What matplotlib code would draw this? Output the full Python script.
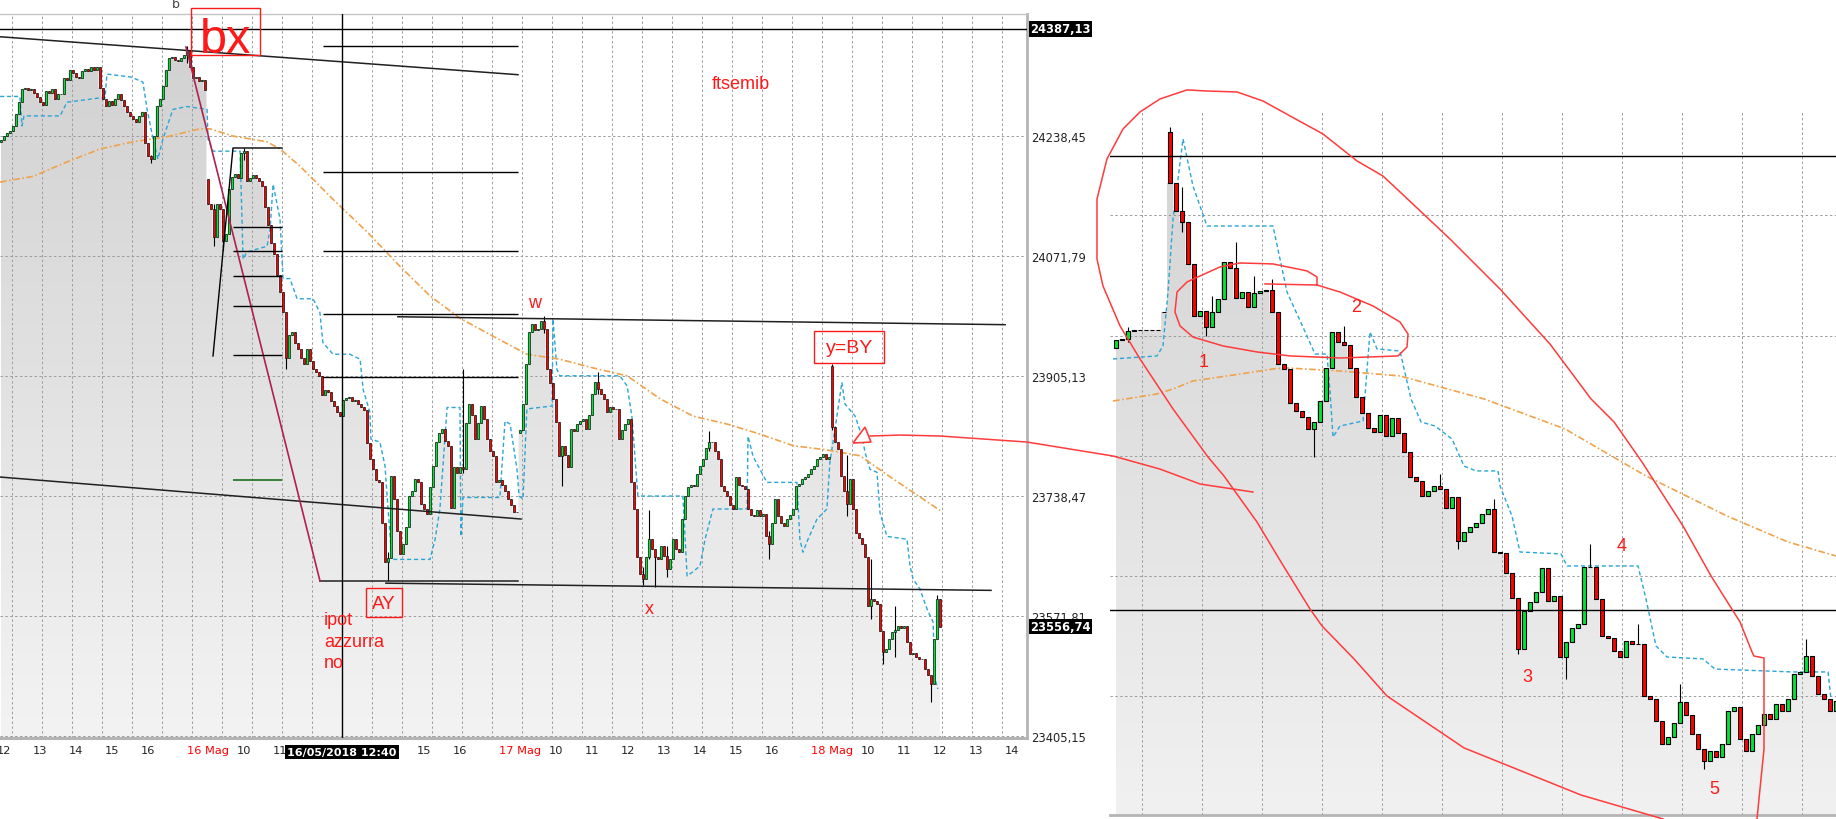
"""FTSE MIB intraday candles with hand annotations (two panels)."""

import matplotlib
matplotlib.use('Agg')
import matplotlib.pyplot as plt
import numpy as np
from matplotlib.colors import LinearSegmentedColormap
from matplotlib.patches import Polygon, Rectangle
from matplotlib.transforms import blended_transform_factory

# ---------------------------------------------------------------------------
# Left chart: 5-minute bars, 104 bars per session (bar 104 = 16 May 09:00)
# ---------------------------------------------------------------------------
session_start = [35, 104, 208, 312]
session_open = [24230, 24178, 23826, 23919]

day15_close = [
    24232, 24238, 24242, 24245, 24252, 24268, 24285, 24303, 24305, 24302,
    24304, 24298, 24292, 24285, 24281, 24300, 24298, 24303, 24290, 24297,
    24296, 24318, 24316, 24330, 24326, 24320, 24318, 24328, 24331, 24329,
    24334, 24330, 24334, 24305, 24290, 24280, 24286, 24281, 24290, 24296,
    24288, 24280, 24271, 24266, 24262, 24258, 24266, 24272, 24228, 24210,
    24206, 24238, 24280, 24290, 24308, 24330, 24346, 24348, 24344, 24342,
    24346, 24350, 24356, 24334, 24318, 24320, 24314, 24316, 24302]
day16_close = [
    24143, 24136, 24098, 24143, 24136, 24092, 24102, 24164, 24181, 24185,
    24180, 24214, 24217, 24176, 24180, 24184, 24180, 24176, 24168, 24140,
    24114, 24090, 24074, 24045, 24022, 23993, 23930, 23962, 23966, 23950,
    23942, 23930, 23921, 23942, 23925, 23914, 23910, 23905, 23878, 23885,
    23883, 23870, 23863, 23855, 23849, 23872, 23874, 23876, 23870, 23872,
    23866, 23862, 23858, 23812, 23790, 23775, 23760, 23757, 23700, 23646,
    23652, 23766, 23734, 23690, 23657, 23672, 23695, 23738, 23745, 23762,
    23758, 23727, 23720, 23713, 23750, 23780, 23813, 23825, 23831, 23815,
    23808, 23722, 23779, 23770, 23778, 23775, 23840, 23866, 23850, 23817,
    23840, 23863, 23845, 23817, 23800, 23794, 23758, 23760, 23754, 23745,
    23734, 23725, 23716, 23716]
day17_close = [
    23830, 23866, 23921, 23966, 23977, 23968, 23970, 23981, 23970, 23914,
    23895, 23873, 23841, 23794, 23808, 23795, 23779, 23831, 23828, 23838,
    23842, 23845, 23831, 23850, 23880, 23896, 23887, 23880, 23873, 23855,
    23862, 23859, 23859, 23817, 23830, 23838, 23845, 23757, 23720, 23654,
    23630, 23623, 23654, 23678, 23665, 23654, 23650, 23668, 23655, 23637,
    23650, 23678, 23665, 23660, 23706, 23738, 23750, 23754, 23752, 23768,
    23780, 23789, 23805, 23813, 23813, 23800, 23789, 23752, 23745, 23738,
    23725, 23720, 23764, 23754, 23752, 23748, 23720, 23712, 23710, 23718,
    23710, 23713, 23682, 23671, 23700, 23734, 23710, 23700, 23696, 23706,
    23712, 23720, 23752, 23755, 23762, 23765, 23768, 23775, 23780, 23789,
    23792, 23796, 23789, 23792]
day18_close = [
    23834, 23813, 23803, 23766, 23745, 23727, 23762, 23720, 23687, 23680,
    23671, 23654, 23585, 23595, 23592, 23588, 23550, 23521, 23525, 23540,
    23549, 23552, 23557, 23555, 23557, 23535, 23518, 23520, 23515, 23512,
    23511, 23498, 23490, 23477, 23540, 23595, 23556.74]

# bar: (low, high) where the shadow is clearly longer than the body
long_wicks = {
    85: (24200, 24212), 97: (24340, 24363), 106: (24085, 24143),
    109: (24080, 24136), 116: (24205, 24222), 130: (23915, 23993),
    164: (23620, 23660), 189: (23770, 23915), 216: (23965, 23988),
    222: (23752, 23808), 234: (23880, 23910), 249: (23614, 23640),
    251: (23650, 23718), 253: (23612, 23665), 257: (23625, 23668),
    271: (23800, 23828), 291: (23650, 23690), 312: (23830, 23922),
    317: (23710, 23795), 325: (23567, 23650), 329: (23505, 23550),
    333: (23515, 23585), 345: (23452, 23490), 347: (23540, 23600)}

# light blue trailing stop (vertices) and orange moving average
stop_line = [
    (34.7, 24293), (41.3, 24293), (42.0, 24252), (42.7, 24266), (54.7, 24266),
    (57.0, 24285), (68.0, 24291), (69.7, 24291), (70.3, 24324), (78.3, 24320),
    (82.3, 24313), (83.7, 24275), (85.7, 24234), (87.3, 24206), (89.0, 24234),
    (92.3, 24275), (97.0, 24279), (103.7, 24275), (104.0, 24234),
    (105.7, 24217), (114.7, 24217), (115.3, 24127), (115.7, 24067),
    (117.0, 24077), (123.7, 24085), (124.7, 24109), (125.7, 24171),
    (128.0, 24123), (129.0, 24040), (131.3, 24040), (133.7, 24012),
    (139.0, 24012), (141.3, 23993), (142.3, 23951), (145.7, 23935),
    (151.3, 23935), (154.7, 23928), (155.7, 23886), (158.0, 23854),
    (158.3, 23817), (161.3, 23813), (163.0, 23780), (163.7, 23738),
    (165.3, 23650), (178.0, 23650), (179.7, 23678), (181.3, 23720),
    (183.7, 23861), (188.0, 23861), (188.3, 23682), (189.0, 23736),
    (201.3, 23736), (203.0, 23842), (204.7, 23838), (207.0, 23775),
    (207.7, 23738), (209.0, 23734), (210.3, 23859), (218.7, 23863),
    (219.0, 23984), (220.3, 23914), (221.3, 23905), (241.3, 23905),
    (243.7, 23891), (245.3, 23849), (247.3, 23738), (262.3, 23738),
    (263.7, 23627), (265.7, 23633), (268.0, 23641), (269.7, 23678),
    (272.3, 23720), (283.7, 23720), (284.0, 23821), (285.7, 23793),
    (290.3, 23757), (300.3, 23757), (301.3, 23678), (302.3, 23660),
    (304.0, 23678), (307.0, 23706), (310.3, 23720), (311.3, 23785),
    (313.0, 23831), (315.3, 23896), (316.3, 23866), (319.7, 23849),
    (322.0, 23821), (323.0, 23799), (324.7, 23775), (327.0, 23771),
    (328.0, 23715), (330.3, 23682), (337.0, 23678), (338.0, 23641),
    (339.0, 23623), (341.3, 23609), (343.7, 23581), (345.7, 23563),
    (346.3, 23484), (347.3, 23470)]
ma_line = [
    (34.7, 24174), (45.7, 24182), (57.0, 24202), (68.0, 24220), (79.0, 24230),
    (90.3, 24237), (101.3, 24248), (104.7, 24248), (112.3, 24238),
    (123.7, 24230), (128.0, 24220), (134.7, 24196), (145.7, 24150),
    (157.0, 24105), (168.0, 24057), (178.0, 24016), (188.0, 23985),
    (199.0, 23960), (210.3, 23935), (221.3, 23928), (232.3, 23916),
    (243.7, 23905), (254.7, 23873), (265.7, 23849), (277.0, 23838),
    (288.0, 23824), (299.0, 23808), (310.3, 23802), (321.3, 23794),
    (332.3, 23762), (348.0, 23718)]

price_grid = [24238.45, 24071.79, 23905.13, 23738.47, 23571.81, 23405.15]
hline_level = 24387.13
last_price = 23556.74
tick_bars = [36, 48, 60, 72, 84, 104, 116, 128, 176, 188, 208, 220, 232, 244,
             256, 268, 280, 292, 312, 324, 336, 348, 360, 372]
tick_labels = ['12', '13', '14', '15', '16', '16 Mag', '10', '11', '15', '16',
               '17 Mag', '10', '11', '12', '13', '14', '15', '16', '18 Mag',
               '10', '11', '12', '13', '14']
cursor_bar = 148.67
cursor_label = '16/05/2018 12:40'

# hand-drawn lines on the left chart, (bar, price)
trend_lines = [
    [(34.67, 24375.9), (207.33, 24323.2)],
    [(34.67, 23764.4), (208.33, 23706.1)],
    [(167.3, 23987.0), (369.7, 23976.0)],
    [(163.3, 23617.0), (365.0, 23607.0)],
    [(141.33, 23620.0), (207.33, 23620.0)],
]
maroon_line = [(96.67, 24361.6), (141.33, 23620.0)]
wave_line = [(105.67, 23932.5), (112.33, 24221.4), (128.67, 24221.4)]
fib_span = (142.33, 207.33)
fib_levels = [24362.6, 24187.6, 24077.9, 23990.8, 23903.3]
small_span = (112.33, 128.67)
small_levels = [24111.6, 24078.3, 24043.6, 24001.9, 23933.9]
green_level = 23760.2
arrow_head = [(319.0, 23811.6), (323.0, 23833.8), (325.0, 23813.0)]
arrow_path = [(324.7, 23821.4), (334.7, 23822.7), (348.0, 23821.4),
              (377.0, 23813.0), (405.7, 23793.6), (421.3, 23775.5),
              (434.7, 23754.7), (452.3, 23743.6)]

# ---------------------------------------------------------------------------
# Right chart: zoom on the 18 May decline
# ---------------------------------------------------------------------------
rp_first_open = 23757.3
rp_gap_open = {8: 23783.6, 9: 23915.0}
rp_close = [
    23763.2, 23764.0, 23769.7, 23770.5, 23770.5, 23770.5, 23770.5, 23770.5,
    23783.6, 23878.0, 23857.0, 23849.0, 23819.0, 23780.7, 23784.3, 23772.6,
    23783.6, 23793.0, 23820.0, 23815.7, 23793.8, 23798.2, 23787.3, 23797.5,
    23799.0, 23799.7, 23783.6, 23745.6, 23742.0, 23717.1, 23711.3, 23706.9,
    23698.1, 23703.3, 23718.6, 23742.7, 23769.0, 23761.7, 23759.5, 23742.7,
    23721.5, 23709.8, 23698.9, 23696.0, 23708.4, 23693.0, 23706.2, 23695.2,
    23681.4, 23663.1, 23660.2, 23649.2, 23652.9, 23656.5, 23654.3, 23640.4,
    23648.5, 23616.3, 23622.9, 23626.6, 23629.5, 23636.1, 23639.7, 23608.3,
    23607.6, 23593.0, 23574.7, 23537.5, 23565.2, 23571.8, 23579.1, 23596.6,
    23572.5, 23576.2, 23531.6, 23542.6, 23552.8, 23555.7, 23597.4, 23597.4,
    23574.0, 23547.0, 23545.5, 23536.0, 23531.6, 23543.3, 23541.1, 23541.1,
    23503.2, 23500.9, 23484.9, 23468.1, 23473.2, 23483.4, 23498.7, 23489.3,
    23475.4, 23464.4, 23455.7, 23463.0, 23458.6, 23468.1, 23492.2, 23495.1,
    23471.7, 23463.0, 23475.4, 23482.0, 23490.0, 23486.3, 23497.3, 23492.2,
    23500.9, 23519.2, 23520.7, 23532.3, 23517.7, 23504.6, 23500.9, 23492.2,
    23499.4]
rp_wicks = {
    2: (23762.0, 23772.6), 9: (23878.0, 23918.7), 11: (23842.0, 23875.0),
    15: (23766.0, 23784.3), 16: (23772.6, 23795.3), 20: (23793.8, 23834.7),
    23: (23787.3, 23809.9), 26: (23783.6, 23807.7), 33: (23677.7, 23703.3),
    38: (23759.5, 23773.4), 54: (23654.3, 23665.3), 57: (23610.5, 23648.5),
    63: (23608.3, 23647.0), 67: (23533.8, 23574.0), 75: (23515.6, 23542.6),
    79: (23597.4, 23614.0), 87: (23541.1, 23555.7), 94: (23483.4, 23511.9),
    98: (23449.8, 23464.4), 115: (23520.7, 23544.8)}
rp_stop = [
    (-0.5, 23749.3), (6.83, 23751.5), (7.83, 23758.8), (8.67, 23798.2),
    (9.5, 23851.5), (11.17, 23910.0), (12.83, 23875.6), (15.17, 23846.4),
    (26.17, 23846.4), (27.33, 23822.3), (28.5, 23798.2), (31.83, 23766.1),
    (33.17, 23752.9), (35.17, 23752.9), (35.67, 23725.2), (36.17, 23692.3),
    (37.33, 23700.3), (41.17, 23704.0), (42.33, 23769.0), (43.5, 23756.6),
    (47.33, 23755.1), (49.17, 23720.1), (50.83, 23703.3), (53.17, 23700.3),
    (56.0, 23690.8), (58.0, 23671.1), (60.0, 23667.5), (63.67, 23667.5),
    (64.0, 23656.5), (66.0, 23634.6), (67.33, 23608.3), (74.17, 23606.9),
    (75.17, 23598.1), (87.0, 23598.1), (88.33, 23574.0), (90.0, 23539.7),
    (91.83, 23531.6), (97.83, 23530.2), (99.83, 23522.8), (112.67, 23520.7),
    (118.67, 23520.7), (119.17, 23501.0)]
rp_ma = [
    (-0.5, 23718.6), (6.83, 23723.7), (9.5, 23727.4), (12.83, 23733.2),
    (20.67, 23738.3), (26.17, 23742.0), (28.5, 23742.7), (37.33, 23740.5),
    (47.33, 23736.9), (61.33, 23720.1), (74.83, 23698.2), (88.33, 23663.8),
    (101.83, 23634.6), (112.0, 23615.6), (120.0, 23605.4)]
rp_grid = [23854.5, 23766.1, 23678.4, 23590.8, 23503.1]
rp_levels = [23897.5, 23565.6]
rp_outer_loop = [
    (91.17, 23413.3), (77.5, 23430.8), (58.0, 23465.2), (45.17, 23503.1),
    (39.67, 23530.2), (34.33, 23554.3), (32.33, 23566.7), (27.5, 23601.0),
    (23.5, 23630.2), (18.0, 23663.8), (15.33, 23677.7), (9.5, 23712.8),
    (4.0, 23749.3), (0.67, 23773.4), (-2.17, 23802.6), (-3.17, 23822.3),
    (-3.17, 23866.1), (-1.5, 23895.4), (1.17, 23917.3), (4.0, 23929.7),
    (7.33, 23939.2), (11.83, 23945.8), (15.17, 23945.0), (20.17, 23944.3),
    (24.5, 23937.7), (29.0, 23926.8), (34.5, 23913.6), (40.17, 23893.9),
    (44.5, 23882.9), (47.33, 23871.3), (55.67, 23836.9), (64.0, 23800.4),
    (72.33, 23760.2), (79.17, 23720.1), (83.0, 23703.3), (87.67, 23674.0),
    (94.5, 23627.3), (99.17, 23590.8), (104.0, 23557.2), (106.0, 23535.3),
    (106.33, 23532.3), (108.0, 23530.9), (108.0, 23464.4), (106.83, 23413.3)]
rp_inner_loop = [
    (24.83, 23804.1), (33.5, 23803.3), (37.33, 23798.2), (42.83, 23788.0),
    (47.33, 23776.3), (48.67, 23767.5), (48.5, 23758.0), (47.0, 23751.5),
    (37.33, 23750.0), (29.0, 23751.5), (23.5, 23754.4), (17.83, 23758.8),
    (12.83, 23765.3), (10.67, 23773.4), (9.83, 23783.6), (10.17, 23798.2),
    (11.83, 23805.5), (14.0, 23809.9), (17.33, 23816.5), (20.67, 23819.4),
    (26.17, 23818.7), (31.83, 23813.6), (33.5, 23809.2), (33.5, 23803.3)]
wave_labels = [('1', 14.67, 23747.8), ('2', 40.0, 23787.3),
               ('3', 68.5, 23517.7), ('4', 84.3, 23612.7),
               ('5', 99.8, 23435.2)]

# ---------------------------------------------------------------------------
GREEN = '#00e436'
RED = '#ff0000'
BLUE = '#2aa6d6'
ORANGE = '#f0a24c'
GRID = '#9c9c9c'
FRAME = '#b4b4b4'
ANNOT = '#ff1a1a'
HAND = '#ff3b3b'
W, H = 1836.0, 820.0


def build_ohlc(closes, first_open, gaps):
    """Opens follow the previous close except on gap bars."""
    closes = np.asarray(closes, dtype=float)
    opens = np.concatenate([[first_open], closes[:-1]])
    for idx, value in gaps.items():
        opens[idx] = value
    return opens, closes


def draw_candles(axes, x, opens, closes, wicks, width, edge_lw, offset=0):
    lows = np.minimum(opens, closes)
    highs = np.maximum(opens, closes)
    for key, (low, high) in wicks.items():
        i = key - offset
        if 0 <= i < len(x):
            lows[i] = min(lows[i], low)
            highs[i] = max(highs[i], high)
    colors = np.where(closes >= opens, GREEN, RED)
    axes.vlines(x, lows, highs, color='black', linewidth=0.8, zorder=3)
    axes.bar(x, np.abs(closes - opens), width, bottom=np.minimum(opens, closes),
             color=colors, edgecolor='black', linewidth=edge_lw, zorder=3.2)


def gradient_area(axes, x, y, top_color, bottom_color):
    x0, x1 = axes.get_xlim()
    y0, y1 = axes.get_ylim()
    area = axes.fill_between(x, y, y0, step='mid', facecolor='none',
                             edgecolor='none')
    cmap = LinearSegmentedColormap.from_list('area', [bottom_color, top_color])
    grad = np.linspace(0, 1, 256).reshape(-1, 1)
    img = axes.imshow(grad, extent=[x0, x1, y0, y1], origin='lower',
                      aspect='auto', cmap=cmap, zorder=0.5,
                      interpolation='bilinear')
    img.set_clip_path(area.get_paths()[0], transform=axes.transData)
    axes.set_xlim(x0, x1)
    axes.set_ylim(y0, y1)


def xy(points):
    arr = np.asarray(points, dtype=float)
    return arr[:, 0], arr[:, 1]


fig = plt.figure(figsize=(18.36, 8.2), dpi=100, facecolor='white')

# ---------------- left chart ----------------
ax = fig.add_axes([0, 1 - 739 / H, 1027 / W, (739 - 15) / H])
ax.set_zorder(2)
ax.set_xlim(34.67, 377.0)
ax.set_ylim(23401.96, 24407.5)

bars = np.concatenate([start + np.arange(len(day)) for start, day in
                       zip(session_start, [day15_close, day16_close,
                                           day17_close, day18_close])])
all_close = day15_close + day16_close + day17_close + day18_close
gap_index = {start - session_start[0]: value
             for start, value in zip(session_start[1:], session_open[1:])}
opens, closes = build_ohlc(all_close, session_open[0], gap_index)

gradient_area(ax, bars, closes, '#d0d0d0', '#f3f3f3')

ax.set_yticks(price_grid)
ax.set_yticklabels([f'{p:.2f}'.replace('.', ',') for p in price_grid])
ax.set_xticks(tick_bars)
ax.set_xticklabels(tick_labels)
ax.set_xticks(np.arange(38.67, 377, 10), minor=True)
ax.yaxis.tick_right()
ax.tick_params(axis='both', which='both', length=0)
ax.tick_params(axis='y', pad=3, labelsize=8.3, labelcolor='#222222')
ax.tick_params(axis='x', pad=5, labelsize=8.2, labelcolor='#222222')
for label, text in zip(ax.get_xticklabels(), tick_labels):
    if 'Mag' in text:
        label.set_color('red')
grid_style = dict(color=GRID, linestyle=(0, (2.5, 2.5)), linewidth=0.7)
ax.yaxis.grid(True, which='major', **grid_style)
ax.xaxis.grid(True, which='minor', **grid_style)
ax.xaxis.grid(False, which='major')
ax.set_axisbelow(True)
ax.spines['left'].set_visible(False)
ax.spines['top'].set_color('#c4c4c4')
ax.spines['top'].set_linewidth(1.0)
ax.spines['right'].set_color(FRAME)
ax.spines['right'].set_linewidth(2.0)
ax.spines['bottom'].set_color(FRAME)
ax.spines['bottom'].set_linewidth(2.2)

sx, sy = xy(stop_line)
ax.plot(sx, sy, color=BLUE, linewidth=1.0, linestyle=(0, (3, 2)), zorder=2)
mx, my = xy(ma_line)
ax.plot(mx, my, color=ORANGE, linewidth=1.2,
        linestyle=(0, (4, 1.5, 1, 1.5)), zorder=2)

draw_candles(ax, bars, opens, closes, long_wicks, 0.95, 0.45,
             offset=session_start[0])

# drawn lines
ax.axhline(hline_level, color='black', linewidth=1.0, zorder=4)
ax.axvline(cursor_bar, color='black', linewidth=1.0, zorder=4)
for seg in trend_lines:
    lx, ly = xy(seg)
    ax.plot(lx, ly, color='#202020', linewidth=1.1, zorder=4)
lx, ly = xy(maroon_line)
ax.plot(lx, ly, color='#b0204e', linewidth=1.2, zorder=4)
lx, ly = xy(wave_line)
ax.plot(lx, ly, color='black', linewidth=1.0, zorder=4)
ax.hlines(fib_levels, *fib_span, color='black', linewidth=1.0, zorder=4)
ax.hlines(small_levels, *small_span, color='black', linewidth=1.0, zorder=4)
ax.hlines(green_level, *small_span, color='#1a6e1a', linewidth=1.2, zorder=4)

# price box labels
ytrans = blended_transform_factory(ax.transAxes, ax.transData)
for value in (hline_level, last_price):
    ax.text(1.003, value, f'{value:.2f}'.replace('.', ','), transform=ytrans,
            ha='left', va='center', color='white', fontsize=8.3,
            fontweight='bold', clip_on=False, zorder=10,
            bbox=dict(boxstyle='square,pad=0.12', fc='black', ec='none'))
xtrans = blended_transform_factory(ax.transData, ax.transAxes)
ax.text(cursor_bar, -0.0195, cursor_label, transform=xtrans, ha='center',
        va='center', color='white', fontsize=8.0, fontweight='bold',
        clip_on=False, zorder=10,
        bbox=dict(boxstyle='square,pad=0.2', fc='black', ec='none'))

# red notes
note = dict(color=ANNOT, family='Liberation Sans', clip_on=False, zorder=9)
ax.text(93.3, 24421.4, 'b', fontsize=9, color='#444444', ha='center',
        va='center', clip_on=False, zorder=9)
ax.add_patch(Rectangle((98.33, 24350.5), 23.0, 65.3, fill=False, ec=ANNOT,
                       lw=1.0, clip_on=False, zorder=9))
ax.text(109.8, 24354.6, 'bx', fontsize=35, ha='center', va='baseline', **note)
ax.text(281.7, 24311.6, 'ftsemib', fontsize=13, ha='center', va='center',
        **note)
ax.text(213.0, 24007.0, 'w', fontsize=13, ha='center', va='center', **note)
ax.add_patch(Rectangle((306.0, 23922.8), 23.3, 44.4, fill=False, ec=ANNOT,
                       lw=1.0, clip_on=False, zorder=9))
ax.text(317.7, 23944.8, 'y=BY', fontsize=14, ha='center', va='center', **note)
ax.add_patch(Rectangle((156.67, 23570.0), 12.0, 40.3, fill=False, ec=ANNOT,
                       lw=1.0, clip_on=False, zorder=9))
ax.text(162.67, 23589.0, 'AY', fontsize=13.5, ha='center', va='center',
        **note)
ax.text(251.0, 23582.0, 'x', fontsize=13, ha='center', va='center', **note)
for word, base in zip(['ipot', 'azzurra', 'no'], [23560.0, 23530.0, 23500.0]):
    ax.text(142.67, base, word, fontsize=13, ha='left', va='baseline', **note)

ax.add_patch(Polygon(arrow_head, closed=True, fc='white', ec=HAND, lw=1.2,
                     clip_on=False, zorder=9))
axx, axy = xy(arrow_path)
ax.plot(axx, axy, color=HAND, linewidth=1.1, clip_on=False, zorder=9)

# ---------------- right chart ----------------
ax2 = fig.add_axes([1110 / W, 1 - 816 / H, 726 / W, (816 - 112) / H])
ax2.set_zorder(1)
ax2.patch.set_alpha(0)
ax2.set_xlim(-1, 120)
ax2.set_ylim(23416.2, 23930.4)
rj = np.arange(len(rp_close))
ropen, rclose = build_ohlc(rp_close, rp_first_open, rp_gap_open)
gradient_area(ax2, rj, rclose, '#d2d2d2', '#f1f1f1')

ax2.set_yticks(rp_grid)
ax2.set_xticks(np.arange(4.33, 120, 10))
ax2.tick_params(axis='both', length=0, labelleft=False, labelbottom=False)
ax2.grid(True, **grid_style)
ax2.set_axisbelow(True)
for side in ('left', 'top', 'right'):
    ax2.spines[side].set_visible(False)
ax2.spines['bottom'].set_color(FRAME)
ax2.spines['bottom'].set_linewidth(2.0)

bx_, by_ = xy(rp_stop)
ax2.plot(bx_, by_, color=BLUE, linewidth=1.0, linestyle=(0, (3, 2)), zorder=2)
ox, oy = xy(rp_ma)
ax2.plot(ox, oy, color=ORANGE, linewidth=1.2,
         linestyle=(0, (4, 1.5, 1, 1.5)), zorder=2)
draw_candles(ax2, rj, ropen, rclose, rp_wicks, 0.78, 0.8)
for level in rp_levels:
    ax2.axhline(level, color='black', linewidth=1.0, zorder=4)

for path in (rp_outer_loop, rp_inner_loop):
    px, py = xy(path)
    ax2.plot(px, py, color=HAND, linewidth=1.1, clip_on=False, zorder=9)
for text, jx, py in wave_labels:
    ax2.text(jx, py, text, fontsize=13, ha='center', va='center', **note)

fig.savefig('out.png', dpi=100, facecolor='white')
